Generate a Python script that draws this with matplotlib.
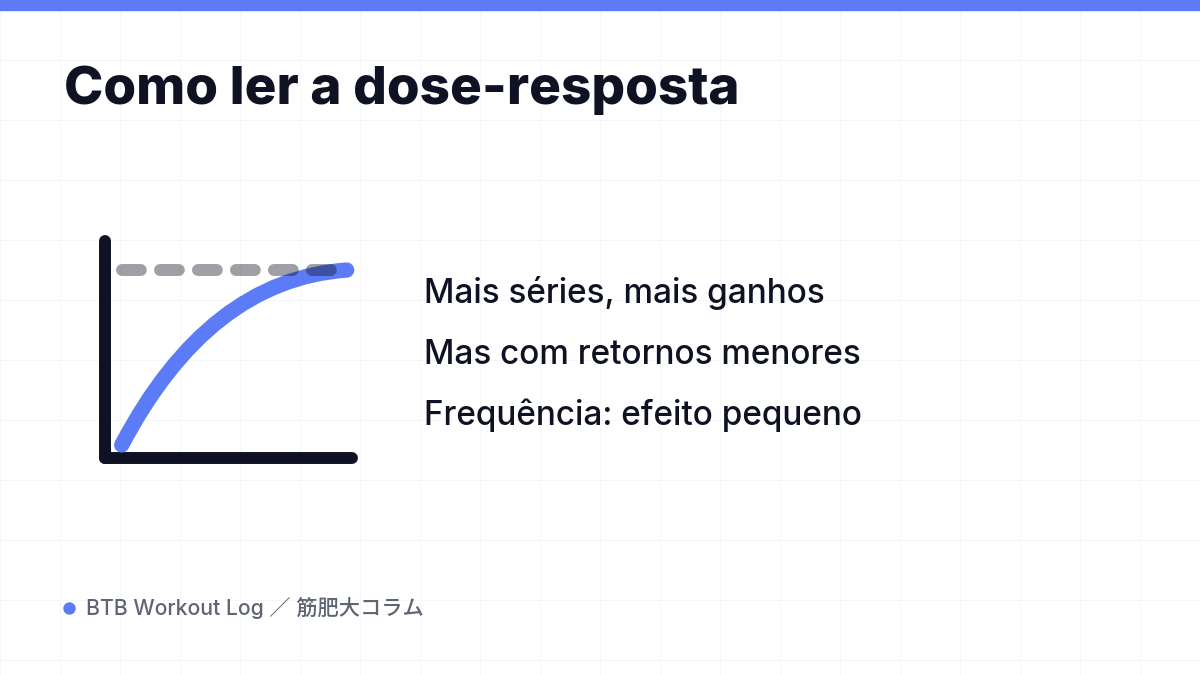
import matplotlib
matplotlib.use("Agg")
import matplotlib.pyplot as plt
from matplotlib.path import Path
from matplotlib.patches import PathPatch

# ---- data ----
title = "Como ler a dose-resposta"
bullets = ["Mais séries, mais ganhos", "Mas com retornos menores", "Frequência: efeito pequeno"]
footer = "BTB Workout Log ／ 筋肥大コラム"

# dose-response curve (quadratic Bezier anchors: start, control, end)
curve_dose = [0.0, 3.48, 9.0]
curve_resp = [0.0, 94.5, 100.0]
# plateau line
plateau_dose = [0.0, 9.0]
plateau_resp = [100.0, 100.0]

BLUE = "#5B7CF6"
DARK = "#0F1222"
GRAY = "#5F6472"

W, H = 1200, 675
fig = plt.figure(figsize=(12, 6.75), dpi=100)
fig.patch.set_facecolor("white")

# background axes in pixel coordinates
bg = fig.add_axes([0, 0, 1, 1], zorder=0)
bg.set_xlim(0, W)
bg.set_ylim(H, 0)
bg.set_xticks(range(0, W + 1, 60))
bg.set_yticks(range(0, H + 1, 60))
bg.grid(True, color="#F5F6F8", linewidth=0.72)
bg.tick_params(length=0, labelbottom=False, labelleft=False)
for s in bg.spines.values():
    s.set_visible(False)
bg.axhspan(0, 10, color=BLUE, zorder=3)

# title
bg.text(64, 104, title, fontsize=38.1, fontweight=800, family="Inter",
        color=DARK, va="baseline", ha="left", zorder=4)

# bullets
for i, t in enumerate(bullets):
    bg.text(424, 303 + i * 61, t, fontsize=24, fontweight=500, family="Inter",
            color=DARK, va="baseline", ha="left", zorder=4)

# footer
bg.scatter([69], [608], s=80, color=BLUE, zorder=4, linewidths=0)
bg.text(86, 615, footer, fontsize=15.3, fontweight=500,
        family=["Inter", "Noto Sans CJK JP"], color=GRAY,
        va="baseline", ha="left", zorder=4)

# diagram axes
px_l, px_r, px_t, px_b = 105, 352, 241, 458.3
ax = fig.add_axes([px_l / W, (H - px_b) / H, (px_r - px_l) / W, (px_b - px_t) / H], zorder=2)
ax.patch.set_alpha(0)
ax.set_xlim(-0.668, 9.212)
ax.set_ylim(-7.6, 116.6)
ax.set_xticks([])
ax.set_yticks([])
for k in ("top", "right"):
    ax.spines[k].set_visible(False)
for k in ("left", "bottom"):
    ax.spines[k].set_linewidth(8.6)
    ax.spines[k].set_color(DARK)
    ax.spines[k].set_capstyle("round")

verts = list(zip(curve_dose, curve_resp))
path = Path(verts, [Path.MOVETO, Path.CURVE3, Path.CURVE3])
ax.add_patch(PathPatch(path, fill=False, edgecolor=BLUE, linewidth=11,
                       capstyle="round", zorder=3, clip_on=False))

ax.plot(plateau_dose, plateau_resp, color=DARK, alpha=0.4, linewidth=8.6,
        linestyle=(0, (1.58, 1.6)), dash_capstyle="round", zorder=4, clip_on=False)

fig.savefig("out.png", dpi=100, facecolor="white")
